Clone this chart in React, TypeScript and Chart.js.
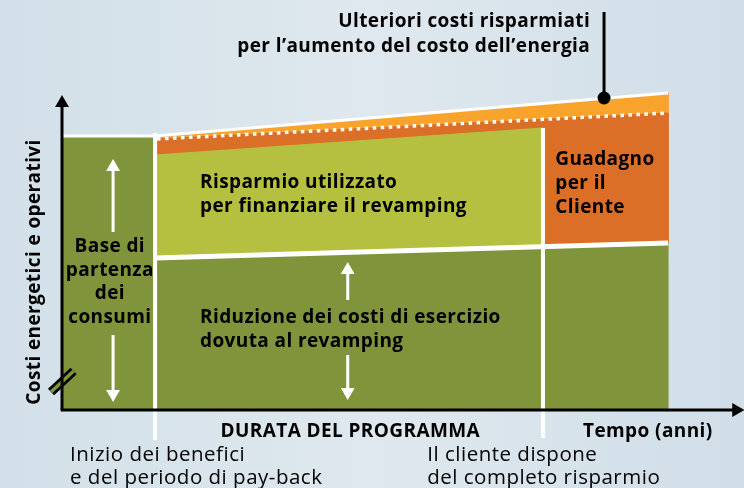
import React, { useEffect, useRef } from "react";
import { Chart, registerables } from "chart.js";

Chart.register(...registerables);

// ---- data (x in years, y in cost units) ----
const timeMarks = [0, 1.44, 7.44, 9.375]; // axis, programme start, programme end, horizon
const axisEnds = [10.43, 30.7]; // x-axis arrow, y-axis arrow
const baseCost = [27.3]; // starting consumption level
const topLine = [27.4, 31.7]; // at start, at horizon
const dottedLine = [27.1, 29.7]; // at start, at horizon
const financedTop = [25.5, 28.2]; // at start, at programme end
const reducedTop = [15.2, 16.4, 16.7]; // at start, programme end, horizon
const belowAxis = [-3.0, -2.8]; // lower end of the two vertical markers
const calloutX = [8.385];
const calloutY = [39.8, 31.2];
const breakMark = [
  [-0.17, 1.8],
  [0.18, 3.9],
];
// arrows: [x, tail, head]
const leftArrows = [
  [0.79, 17.8, 24.3],
  [0.79, 7.5, 1.6],
];
const midArrows = [
  [4.42, 11.0, 14.0],
  [4.42, 5.5, 1.8],
];

const FONT = "'Open Sans', 'Noto Sans', sans-serif";

type Lbl = {
  lines: string[];
  x: number;
  y: number;
  align: CanvasTextAlign;
  bold: boolean;
  lh: number;
  rot?: number;
};

const labels: Lbl[] = [
  { lines: ["Ulteriori costi risparmiati", "per l\u2019aumento del costo dell\u2019energia"], x: 8.17, y: 38.8, align: "right", bold: true, lh: 24.5 },
  { lines: ["Risparmio utilizzato", "per finanziare il revamping"], x: 2.135, y: 22.7, align: "left", bold: true, lh: 24 },
  { lines: ["Guadagno", "per il", "Cliente"], x: 7.63, y: 25.0, align: "left", bold: true, lh: 24 },
  { lines: ["Base di", "partenza", "dei", "consumi"], x: 0.74, y: 16.3, align: "center", bold: true, lh: 23.5 },
  { lines: ["Riduzione dei costi di esercizio", "dovuta al revamping"], x: 2.135, y: 9.2, align: "left", bold: true, lh: 24 },
  { lines: ["DURATA DEL PROGRAMMA"], x: 4.46, y: -2.2, align: "center", bold: true, lh: 24 },
  { lines: ["Tempo (anni)"], x: 8.06, y: -2.2, align: "left", bold: true, lh: 24 },
  { lines: ["Inizio dei benefici", "e del periodo di pay-back"], x: 0.124, y: -4.5, align: "left", bold: false, lh: 23 },
  { lines: ["Il cliente dispone", "del completo risparmio"], x: 5.65, y: -4.5, align: "left", bold: false, lh: 23 },
  { lines: ["Costi energetici e operativi"], x: -0.42, y: 13.8, align: "center", bold: true, lh: 24, rot: -Math.PI / 2 },
];

const C = {
  lightOrange: "#f8a32b",
  orange: "#dc6f28",
  yellow: "#b6c040",
  green: "#80953b",
  white: "#ffffff",
  black: "#000000",
};

function poly(pts: number[][], color: string, order: number) {
  return {
    data: pts.map(([x, y]) => ({ x, y })),
    showLine: true,
    fill: "shape",
    backgroundColor: color,
    borderColor: color,
    borderWidth: 1,
    pointRadius: 0,
    tension: 0,
    clip: false,
    order,
  };
}

function line(pts: number[][], color: string, width: number, order: number, extra: any = {}) {
  return {
    data: pts.map(([x, y]) => ({ x, y })),
    showLine: true,
    fill: false,
    borderColor: color,
    borderWidth: width,
    pointRadius: 0,
    tension: 0,
    clip: false,
    order,
    ...extra,
  };
}

function arrow(a: number[], color: string, width: number, r: number, vertical: boolean, order: number) {
  const [p, tail, head] = a;
  const pts = vertical ? [[p, tail], [p, head]] : [[tail, p], [head, p]];
  const up = head > tail;
  const rot = vertical ? (up ? 0 : 180) : 90;
  return line(pts, color, width, order, {
    pointRadius: [0, r],
    pointStyle: "triangle",
    pointRotation: [0, rot],
    pointBackgroundColor: color,
    pointBorderColor: color,
    pointBorderWidth: 0,
  });
}

const labelPlugin = {
  id: "labels",
  afterDatasetsDraw(chart: any) {
    const { ctx, scales } = chart;
    const xs = scales.x;
    const ys = scales.y;
    ctx.save();
    ctx.fillStyle = "#000";
    ctx.textBaseline = "middle";
    for (const l of labels) {
      const px = xs.getPixelForValue(l.x);
      const py = ys.getPixelForValue(l.y);
      ctx.font = l.bold ? `bold 19px ${FONT}` : `20.5px ${FONT}`;
      try {
        (ctx as any).letterSpacing = l.bold ? "0.4px" : "0.5px";
      } catch (e) {}
      ctx.textAlign = l.align;
      ctx.save();
      ctx.translate(px, py);
      if (l.rot) ctx.rotate(l.rot);
      l.lines.forEach((t, i) => ctx.fillText(t, 0, i * l.lh));
      ctx.restore();
    }
    ctx.restore();
  },
};

export default function App() {
  const ref = useRef<HTMLCanvasElement>(null);
  useEffect(() => {
    if (!ref.current) return;
    const [x0, xs, xe, xh] = timeMarks;
    const datasets: any[] = [
      // regions
      poly([[xs, topLine[0]], [xh, topLine[1]], [xh, dottedLine[1]], [xs, dottedLine[0]]], C.lightOrange, 100),
      poly([[xs, dottedLine[0]], [xh, dottedLine[1]], [xh, reducedTop[2]], [xs, reducedTop[0]]], C.orange, 90),
      poly([[xs, financedTop[0]], [xe, financedTop[1]], [xe, reducedTop[1]], [xs, reducedTop[0]]], C.yellow, 80),
      poly([[xs, 0], [xh, 0], [xh, reducedTop[2]], [xs, reducedTop[0]]], C.green, 80),
      poly([[x0, 0], [xs, 0], [xs, baseCost[0]], [x0, baseCost[0]]], C.green, 80),
      // white lines
      line([[xs, reducedTop[0]], [xh, reducedTop[2]]], C.white, 5, 50),
      line([[xs, topLine[0] + 0.3], [xs, belowAxis[0]]], C.white, 4, 50),
      line([[xe, financedTop[1]], [xe, belowAxis[1]]], C.white, 4, 50),
      line([[x0, topLine[0]], [xs, topLine[0]], [xh, topLine[1]]], C.white, 3, 50),
      line([[xs + 0.03, dottedLine[0]], [xh, dottedLine[1]]], C.white, 3.5, 40, { borderDash: [3.5, 4.5] }),
      // axis break
      line(breakMark, C.black, 9, 30),
      line(breakMark, C.green, 3.5, 29),
      // axes
      arrow([x0, 0, axisEnds[1]], C.black, 3, 8, true, 20),
      arrow([0, x0 - 0.02, axisEnds[0]], C.black, 3, 8, false, 20),
      // arrows
      ...leftArrows.map((a) => arrow(a, C.white, 3, 8, true, 10)),
      ...midArrows.map((a) => arrow(a, C.white, 3, 8, true, 10)),
      // callout
      line([[calloutX[0], calloutY[0]], [calloutX[0], calloutY[1]]], C.black, 3, 10, {
        pointRadius: [0, 6.5],
        pointBackgroundColor: C.black,
        pointBorderWidth: 0,
      }),
    ];
    const chart = new Chart(ref.current, {
      type: "scatter",
      data: { datasets },
      options: {
        animation: false,
        responsive: false,
        events: [],
        layout: { autoPadding: false, padding: { left: 62, right: 0, top: 80, bottom: 78 } },
        scales: {
          x: { type: "linear", min: 0, max: 10.55, display: false },
          y: { type: "linear", min: 0, max: 33, display: false },
        },
        plugins: { legend: { display: false }, tooltip: { enabled: false } },
      },
      plugins: [labelPlugin],
    } as any);
    return () => chart.destroy();
  }, []);
  return (
    <div
      style={{
        position: "absolute",
        left: 0,
        top: 0,
        width: 744,
        height: 488,
        background: "linear-gradient(90deg, #d2e0e9 0%, #dfe8ee 50%, #d0dee8 100%)",
        overflow: "hidden",
      }}
    >
      <canvas ref={ref} width={744} height={488} style={{ display: "block" }} />
    </div>
  );
}
